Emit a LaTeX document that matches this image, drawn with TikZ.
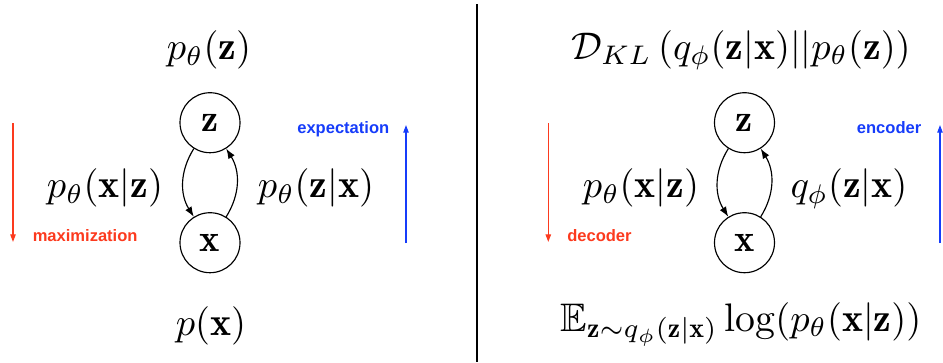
\documentclass[tikz,border=0pt]{standalone}
\usepackage{amsmath, amssymb}
\usepackage{fontspec}
\setsansfont{Liberation Sans}
\usepackage{tikz}
\usetikzlibrary{arrows.meta}
\definecolor{emred}{RGB}{252,58,30}
\definecolor{emblue}{RGB}{22,60,250}

\begin{document}
\begin{tikzpicture}[x=0.26pt, y=-0.26pt,
    latent/.style={circle, draw, line width=0.3pt, minimum size=15.6pt, inner sep=0pt},
    link/.style={-{Latex[length=2.6pt, width=1.9pt]}, line width=0.3pt, bend right=32},
    eqn/.style={anchor=base, inner sep=0pt, font=\fontsize{10.35}{12}\selectfont},
    phase/.style={font=\fontsize{4.3}{5}\sffamily\bfseries, inner sep=0pt},
    flow/.style={-{Triangle[length=2pt, width=1.4pt]}, line width=0.35pt}]
  \useasboundingbox (0,0) rectangle (943,362);
  % left: EM
  \node[latent] (zl) at (210,122.7) {$\mathbf{z}$};
  \node[latent] (xl) at (210,242.7) {$\mathbf{x}$};
  \draw[link] (zl) to (xl);
  \draw[link] (xl) to (zl);
  \node[eqn] (lpz) at (209,59.5) {$p_\theta(\mathbf{z})$};
  \node[eqn] (lpx) at (211,335.5) {$p(\mathbf{x})$};
  \node[eqn] (lpxz) at (105,197.5) {$p_\theta(\mathbf{x}|\mathbf{z})$};
  \node[eqn] (lpzx) at (316,197.5) {$p_\theta(\mathbf{z}|\mathbf{x})$};
  \coordinate (lmtop) at (13,123);
  \coordinate (lmbot) at (13,242);
  \draw[flow, emred] (lmtop) -- (lmbot);
  \node[phase, anchor=base west, text=emred] (lmax) at (32,241.5) {maximization};
  \coordinate (letop) at (406,125);
  \coordinate (lebot) at (406,243);
  \draw[flow, emblue] (lebot) -- (letop);
  \node[phase, anchor=base east, text=emblue] (lexp) at (390,133) {expectation};
  % divider
  \coordinate (dtop) at (477,4);
  \coordinate (dbot) at (477,362);
  \draw[line width=0.52pt] (dtop) -- (dbot);
  % right: VAE
  \node[latent] (zr) at (744.5,122.7) {$\mathbf{z}$};
  \node[latent] (xr) at (744.5,242.7) {$\mathbf{x}$};
  \draw[link] (zr) to (xr);
  \draw[link] (xr) to (zr);
  \node[eqn] (rkl) at (741,59) {$\mathcal{D}_{KL}\,(q_\phi(\mathbf{z}|\mathbf{x})||p_\theta(\mathbf{z}))$};
  \node[eqn] (rll) at (741,331) {$\mathbb{E}_{\mathbf{z}\sim q_\phi(\mathbf{z}|\mathbf{x})}\log(p_\theta(\mathbf{x}|\mathbf{z}))$};
  \node[eqn] (rpxz) at (641,197.5) {$p_\theta(\mathbf{x}|\mathbf{z})$};
  \node[eqn] (rqzx) at (849,197.5) {$q_\phi(\mathbf{z}|\mathbf{x})$};
  \coordinate (rdtop) at (548.3,123);
  \coordinate (rdbot) at (548.3,242);
  \draw[flow, emred] (rdtop) -- (rdbot);
  \node[phase, anchor=base west, text=emred] (rdec) at (566.5,241.5) {decoder};
  \coordinate (retop) at (940,125);
  \coordinate (rebot) at (940,243);
  \draw[flow, emblue] (rebot) -- (retop);
  \node[phase, anchor=base east, text=emblue] (renc) at (922,133) {encoder};
\end{tikzpicture}
\end{document}
